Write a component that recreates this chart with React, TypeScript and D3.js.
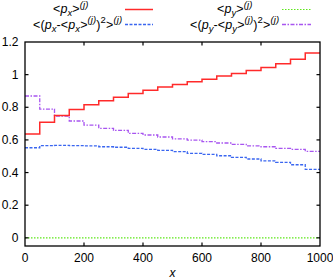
import React, { useEffect, useRef } from 'react';
import * as d3 from 'd3';

// bin starts (width 50), last bin ends at 1000
const binStarts = [0, 50, 100, 150, 200, 250, 300, 350, 400, 450, 500, 550, 600, 650, 700, 750, 800, 850, 900, 950];
const binEnd = 1000;

const meanPx = [0.636, 0.708, 0.750, 0.787, 0.815, 0.840, 0.862, 0.885, 0.905, 0.924, 0.940, 0.956, 0.972, 0.992, 1.007, 1.026, 1.044, 1.066, 1.095, 1.133];
const meanPy = [0, 0, 0, 0, 0, 0, 0, 0, 0, 0, 0, 0, 0, 0, 0, 0, 0, 0, 0, 0];
const varPx = [0.552, 0.565, 0.567, 0.565, 0.563, 0.558, 0.555, 0.548, 0.542, 0.536, 0.528, 0.518, 0.512, 0.503, 0.493, 0.483, 0.471, 0.463, 0.448, 0.420];
const varPy = [0.869, 0.789, 0.746, 0.716, 0.691, 0.671, 0.658, 0.640, 0.630, 0.618, 0.607, 0.599, 0.589, 0.581, 0.573, 0.563, 0.558, 0.548, 0.542, 0.530];

const xTicks = [0, 200, 400, 600, 800, 1000];
const yTicks = [0, 0.2, 0.4, 0.6, 0.8, 1, 1.2];

const W = 333;
const H = 280;
const FONT = "'Liberation Sans', Arial, sans-serif";

export default function App() {
  const svgRef = useRef<SVGSVGElement>(null);

  useEffect(() => {
    if (!svgRef.current) return;
    const svg = d3.select(svgRef.current);
    svg.selectAll("*").remove();

    const left = 25, right = 320, top = 42, bottom = 246;

    const x = d3.scaleLinear().domain([0, 1000]).range([left, right]);
    const y = d3.scaleLinear().domain([-0.05, 1.2]).range([bottom, top]);

    const stepLine = d3.line<[number, number]>()
      .x(d => x(d[0]))
      .y(d => y(d[1]))
      .curve(d3.curveStepAfter);

    const pts = (vals: number[]): [number, number][] => {
      const p: [number, number][] = binStarts.map((b, i) => [b, vals[i]]);
      p.push([binEnd, vals[vals.length - 1]]);
      return p;
    };

    const series = [
      { vals: meanPy, color: "#5ee81a", dash: "1.5,1.5", width: 1.1 },
      { vals: varPx, color: "#3a66f0", dash: "3,1.5", width: 1.3 },
      { vals: varPy, color: "#a855f0", dash: "4,1.5,1.5,1.5", width: 1.3 },
      { vals: meanPx, color: "#ff2a2a", dash: null as string | null, width: 1.5 },
    ];

    series.forEach(s => {
      svg.append("path")
        .attr("d", stepLine(pts(s.vals)))
        .attr("fill", "none")
        .attr("stroke", s.color)
        .attr("stroke-width", s.width)
        .attr("stroke-dasharray", s.dash);
    });

    // frame
    svg.append("rect")
      .attr("x", left).attr("y", top)
      .attr("width", right - left).attr("height", bottom - top)
      .attr("fill", "none").attr("stroke", "#000").attr("stroke-width", 1.3);

    const tl = 3.5;
    xTicks.forEach(t => {
      if (t !== 0 && t !== 1000) {
        svg.append("line").attr("x1", x(t)).attr("x2", x(t)).attr("y1", bottom).attr("y2", bottom - tl).attr("stroke", "#000").attr("stroke-width", 1.2);
        svg.append("line").attr("x1", x(t)).attr("x2", x(t)).attr("y1", top).attr("y2", top + tl).attr("stroke", "#000").attr("stroke-width", 1.2);
      }
      svg.append("text")
        .attr("x", x(t)).attr("y", 262)
        .attr("text-anchor", "middle")
        .attr("font-family", FONT).attr("font-size", 12)
        .text(String(t));
    });

    yTicks.forEach(t => {
      if (t !== 1.2) {
        svg.append("line").attr("x1", left).attr("x2", left + tl).attr("y1", y(t)).attr("y2", y(t)).attr("stroke", "#000").attr("stroke-width", 1.2);
        svg.append("line").attr("x1", right).attr("x2", right - tl).attr("y1", y(t)).attr("y2", y(t)).attr("stroke", "#000").attr("stroke-width", 1.2);
      }
      svg.append("text")
        .attr("x", 18.5).attr("y", y(t) + 4)
        .attr("text-anchor", "end")
        .attr("font-family", FONT).attr("font-size", 12)
        .text(String(t));
    });

    svg.append("text")
      .attr("x", (left + right) / 2).attr("y", 277)
      .attr("text-anchor", "middle")
      .attr("font-family", FONT).attr("font-size", 12).attr("font-style", "italic")
      .text("x");

    // legend
    type Part = { t: string; it?: boolean; sub?: boolean; sup?: boolean };
    const addLabel = (px: number, py: number, parts: Part[]) => {
      const txt = svg.append("text")
        .attr("x", px).attr("y", py)
        .attr("font-family", FONT).attr("font-size", 12.5)
        .attr("letter-spacing", 0.1);
      let level = 0;
      parts.forEach(p => {
        const target = p.sub ? 3 : p.sup ? -5.5 : 0;
        txt.append("tspan")
          .attr("dy", target - level)
          .attr("font-size", p.sub || p.sup ? 9.5 : 12.5)
          .attr("font-style", p.it ? "italic" : "normal")
          .text(p.t);
        level = target;
      });
    };

    const meanLabel = (c: string): Part[] => [
      { t: "<" }, { t: "p", it: true }, { t: c, it: true, sub: true }, { t: ">" }, { t: "(j)", it: true, sup: true },
    ];
    const varLabel = (c: string): Part[] => [
      { t: "<(" }, { t: "p", it: true }, { t: c, it: true, sub: true }, { t: "-<" }, { t: "p", it: true },
      { t: c, it: true, sub: true }, { t: ">" }, { t: "(j)", it: true, sup: true }, { t: ")" },
      { t: "2", sup: true }, { t: ">" }, { t: "(j)", it: true, sup: true },
    ];

    addLabel(53, 13, meanLabel("x"));
    addLabel(33, 28.5, varLabel("x"));
    addLabel(217, 13, meanLabel("y"));
    addLabel(190, 28.5, varLabel("y"));

    const legendLines = [
      { x1: 125, x2: 153, yy: 9.5, s: series[3] },
      { x1: 125, x2: 153, yy: 24.5, s: series[1] },
      { x1: 282, x2: 311, yy: 9.5, s: series[0] },
      { x1: 282, x2: 311, yy: 24.5, s: series[2] },
    ];
    legendLines.forEach(l => {
      svg.append("line")
        .attr("x1", l.x1).attr("x2", l.x2).attr("y1", l.yy).attr("y2", l.yy)
        .attr("stroke", l.s.color).attr("stroke-width", l.s.width)
        .attr("stroke-dasharray", l.s.dash);
    });
  }, []);

  return (
    <svg
      ref={svgRef}
      width={W}
      height={H}
      style={{ position: "absolute", left: 0, top: 0, background: "#fff" }}
    />
  );
}
